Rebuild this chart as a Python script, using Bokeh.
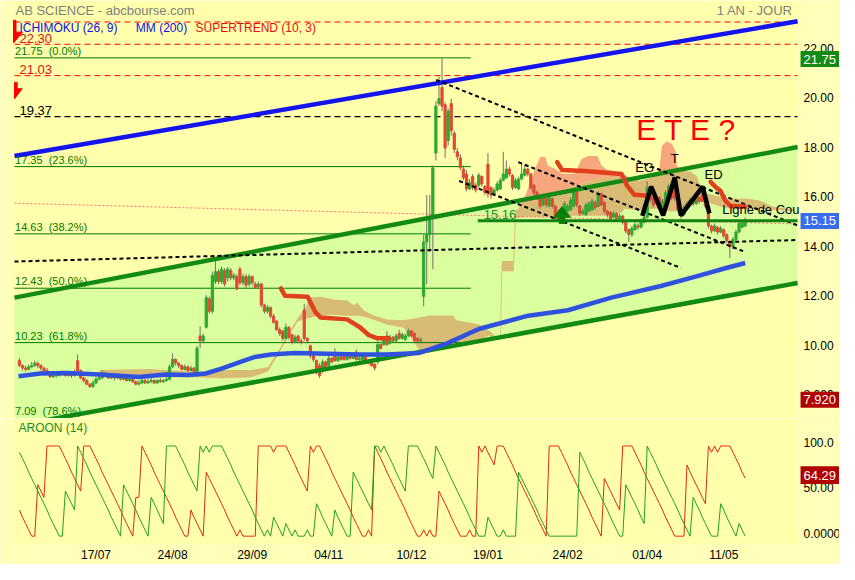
from bokeh.plotting import figure
from bokeh.layouts import column
from bokeh.models import Range1d, FixedTicker
from bokeh.core.properties import value
from bokeh.embed import file_html
from bokeh.resources import INLINE

FONT = "Liberation Sans"
BG = "#FFFFAC"
SIDE_BG = "#FFFFBA"

# ---------------- data ----------------
date_ticks = [25, 50, 76, 101, 128, 153, 179, 205, 230]
date_labels = ["17/07", "24/08", "29/09", "04/11", "10/12", "19/01", "24/02", "01/04", "11/05"]
price_ticks = [8, 10, 12, 14, 16, 18, 20, 22]
price_tick_labels = ["8.000", "10.00", "12.00", "14.00", "16.00", "18.00", "20.00", "22.00"]
aroon_ticks = [0, 50, 100]
aroon_tick_labels = ["0.0000", "50.00", "100.0"]

opens = [9.50, 9.30, 9.20, 9.15, 9.25, 9.30, 9.40, 9.30, 9.20, 9.10,
         9.00, 8.85, 8.95, 8.90, 8.95, 9.00, 8.90, 8.95, 8.90, 9.50,
         9.10, 8.80, 8.70, 8.55, 8.45, 8.60, 8.75, 8.80, 9.00, 8.90,
         8.80, 8.90, 8.80, 8.85, 8.75, 8.85, 8.70, 8.75, 8.65, 8.55,
         8.60, 8.70, 8.60, 8.65, 8.70, 8.60, 8.70, 8.65, 8.70, 8.75,
         9.25, 9.55, 9.40, 9.30, 9.15, 9.25, 9.10, 9.20, 9.00, 10.50,
         10.30, 10.85, 12.00, 11.50, 12.70, 13.10, 12.70, 13.15, 12.85, 13.15,
         12.85, 12.90, 13.20, 12.65, 12.90, 12.60, 12.90, 12.60, 12.50, 12.60,
         11.75, 11.50, 11.65, 11.30, 11.10, 10.75, 10.70, 10.40, 10.85, 10.55,
         10.25, 10.50, 10.30, 11.55, 10.40, 10.10, 9.70, 9.50, 9.30, 9.10,
         9.45, 9.30, 9.60, 9.70, 9.50, 9.65, 9.75, 9.55, 9.70, 9.60,
         9.85, 9.55, 9.55, 9.70, 9.50, 9.40, 9.35, 9.45, 10.15, 10.15,
         10.50, 10.20, 10.45, 10.30, 10.60, 10.40, 10.35, 10.50, 10.70, 10.60,
         10.40, 10.30, 12.10, 14.30, 14.60, 15.40, 17.90, 19.90, 20.55, 19.85,
         18.40, 19.90, 18.70, 17.95, 17.70, 17.25, 17.05, 16.45, 16.95, 16.60,
         16.60, 16.95, 16.55, 17.45, 16.50, 16.25, 16.40, 16.45, 16.80, 16.90,
         17.25, 17.00, 16.50, 16.45, 16.85, 17.00, 17.25, 17.05, 16.60, 16.30,
         16.15, 15.80, 16.10, 15.75, 16.05, 15.75, 15.30, 15.50, 15.40, 15.55,
         15.60, 15.75, 16.30, 15.75, 15.45, 15.40, 15.55, 15.60, 15.90, 15.75,
         16.25, 15.90, 15.55, 15.50, 15.30, 15.45, 15.25, 15.35, 15.10, 14.80,
         14.60, 14.80, 14.95, 14.90, 15.10, 15.30, 16.40, 16.10, 15.85, 16.10,
         15.75, 15.90, 16.30, 16.50, 16.90, 16.00, 15.60, 15.40, 15.65, 15.85,
         16.00, 15.85, 16.10, 16.30, 16.00, 15.75, 14.95, 14.75, 14.90, 14.70,
         14.80, 14.60, 14.30, 14.10, 14.40, 14.70, 14.90, 14.95]
closes = [9.30, 9.20, 9.15, 9.25, 9.30, 9.40, 9.30, 9.20, 9.10, 9.00,
          8.85, 8.95, 8.90, 8.95, 9.00, 8.90, 8.95, 8.90, 9.05, 9.10,
          8.80, 8.70, 8.55, 8.45, 8.60, 8.75, 8.80, 9.00, 8.90, 8.80,
          8.90, 8.80, 8.85, 8.75, 8.85, 8.70, 8.75, 8.65, 8.55, 8.60,
          8.70, 8.60, 8.65, 8.70, 8.60, 8.70, 8.65, 8.70, 8.75, 9.25,
          9.55, 9.40, 9.30, 9.15, 9.25, 9.10, 9.20, 9.05, 10.00, 10.30,
          10.50, 12.05, 11.50, 12.95, 13.10, 12.70, 13.20, 12.60, 13.20, 12.85,
          12.95, 12.40, 12.65, 12.90, 12.55, 12.90, 12.65, 12.45, 12.60, 11.75,
          11.50, 11.65, 11.30, 11.05, 10.75, 10.60, 10.40, 10.85, 10.45, 10.25,
          10.45, 10.30, 10.25, 10.40, 10.30, 9.70, 9.55, 9.10, 8.90, 9.45,
          9.20, 9.60, 9.45, 9.50, 9.65, 9.55, 9.55, 9.70, 9.60, 9.70,
          9.55, 9.60, 9.70, 9.50, 9.40, 9.30, 9.20, 10.15, 10.00, 10.40,
          10.15, 10.45, 10.30, 10.50, 10.40, 10.55, 10.50, 10.70, 10.50, 10.30,
          10.30, 10.35, 14.30, 14.60, 15.20, 17.30, 19.80, 20.10, 19.80, 18.10,
          19.60, 18.80, 18.05, 17.75, 17.30, 16.90, 16.45, 16.70, 16.50, 16.40,
          17.00, 16.65, 16.30, 16.25, 16.20, 16.40, 16.65, 16.80, 17.05, 17.25,
          17.05, 16.50, 16.80, 16.85, 17.05, 17.25, 17.05, 16.50, 16.30, 16.10,
          15.75, 16.05, 15.80, 16.10, 15.75, 15.25, 15.50, 15.30, 15.85, 15.75,
          16.00, 16.35, 15.80, 15.45, 15.55, 15.80, 15.85, 15.95, 15.70, 16.25,
          15.80, 15.55, 15.40, 15.25, 15.45, 15.25, 15.35, 15.10, 14.75, 14.60,
          14.85, 15.00, 14.90, 15.15, 15.30, 16.50, 16.00, 15.80, 16.10, 15.75,
          15.95, 16.30, 16.55, 16.10, 16.05, 15.60, 15.35, 15.70, 15.85, 16.00,
          15.85, 16.15, 15.95, 15.95, 15.75, 14.95, 14.75, 14.95, 14.70, 14.85,
          14.55, 14.35, 14.10, 14.40, 14.70, 15.05, 15.10, 15.15]
highs = [9.60, 9.35, 9.30, 9.35, 9.45, 9.50, 9.45, 9.35, 9.25, 9.20,
         9.05, 9.05, 9.00, 9.05, 9.10, 9.05, 9.00, 9.00, 9.15, 9.75,
         9.15, 8.85, 8.75, 8.60, 8.70, 8.85, 8.90, 9.10, 9.05, 8.95,
         9.00, 8.95, 8.95, 8.90, 8.95, 8.90, 8.85, 8.80, 8.70, 8.70,
         8.80, 8.75, 8.75, 8.80, 8.75, 8.75, 8.80, 8.75, 8.85, 9.35,
         9.80, 9.60, 9.45, 9.35, 9.35, 9.30, 9.30, 9.25, 10.10, 10.90,
         10.60, 12.15, 12.10, 13.10, 13.60, 13.20, 13.30, 13.25, 13.30, 13.25,
         13.05, 13.00, 13.30, 13.00, 13.00, 13.00, 12.95, 12.70, 12.70, 12.65,
         11.80, 11.75, 11.70, 11.40, 11.15, 10.85, 10.75, 11.00, 10.90, 10.60,
         10.55, 10.55, 10.40, 11.80, 10.45, 10.15, 9.75, 9.55, 9.40, 9.55,
         9.50, 9.70, 9.65, 10.00, 9.75, 9.70, 9.85, 9.80, 9.75, 9.80,
         9.95, 9.70, 9.80, 9.75, 9.55, 9.45, 9.40, 10.30, 10.20, 10.50,
         10.70, 10.55, 10.50, 10.60, 10.75, 10.65, 10.60, 10.80, 10.75, 10.65,
         10.45, 10.45, 14.60, 16.20, 16.20, 17.40, 20.00, 21.00, 21.75, 19.95,
         19.70, 20.10, 18.80, 18.10, 17.85, 17.40, 17.20, 16.85, 17.05, 16.70,
         17.10, 17.00, 16.60, 17.90, 16.55, 16.50, 16.75, 16.90, 17.95, 17.60,
         17.35, 17.05, 16.90, 16.95, 17.50, 17.40, 17.30, 17.10, 16.65, 16.40,
         16.20, 16.15, 16.15, 16.20, 16.10, 15.80, 15.60, 15.55, 15.95, 15.85,
         16.10, 16.50, 16.35, 15.80, 15.65, 15.90, 15.95, 16.05, 16.00, 16.35,
         16.30, 15.95, 15.60, 15.55, 15.55, 15.50, 15.45, 15.40, 15.15, 14.85,
         14.95, 15.10, 15.05, 15.25, 15.40, 16.75, 16.45, 16.15, 16.20, 16.15,
         16.05, 16.40, 16.65, 16.55, 17.00, 16.05, 15.65, 15.80, 15.95, 16.10,
         16.05, 16.25, 16.15, 16.40, 16.05, 15.80, 15.00, 15.05, 14.95, 14.95,
         14.85, 14.65, 14.35, 14.50, 14.80, 15.15, 15.20, 15.30]
lows = [9.25, 9.10, 9.05, 9.10, 9.20, 9.25, 9.20, 9.10, 9.00, 8.95,
        8.80, 8.80, 8.80, 8.85, 8.90, 8.85, 8.85, 8.80, 8.85, 9.00,
        8.75, 8.60, 8.50, 8.40, 8.40, 8.55, 8.70, 8.75, 8.85, 8.75,
        8.75, 8.70, 8.75, 8.70, 8.70, 8.65, 8.65, 8.60, 8.50, 8.50,
        8.55, 8.55, 8.55, 8.60, 8.55, 8.55, 8.60, 8.60, 8.65, 8.70,
        9.20, 9.30, 9.20, 9.10, 9.10, 9.05, 9.05, 8.95, 8.85, 10.00,
        10.20, 10.80, 11.40, 11.40, 12.60, 12.60, 12.60, 12.50, 12.70, 12.75,
        12.75, 12.35, 12.55, 12.55, 12.45, 12.50, 12.55, 12.40, 12.40, 11.65,
        11.40, 11.40, 11.20, 11.00, 10.70, 10.50, 10.30, 10.35, 10.35, 10.15,
        10.20, 10.20, 10.15, 10.30, 10.20, 9.60, 9.45, 8.95, 8.80, 9.00,
        9.10, 9.25, 9.40, 9.45, 9.45, 9.50, 9.50, 9.50, 9.55, 9.55,
        9.50, 9.50, 9.50, 9.45, 9.35, 9.25, 9.10, 9.35, 9.95, 10.10,
        10.10, 10.15, 10.25, 10.25, 10.35, 10.35, 10.30, 10.45, 10.45, 10.20,
        10.25, 10.25, 11.70, 12.60, 13.90, 13.20, 17.60, 19.80, 19.60, 17.70,
        18.20, 18.60, 17.90, 17.60, 17.20, 16.80, 16.35, 16.40, 16.40, 16.30,
        16.50, 16.55, 16.20, 16.10, 16.05, 16.15, 16.35, 16.40, 16.75, 16.85,
        16.95, 16.40, 16.45, 16.40, 16.80, 16.95, 16.95, 16.40, 16.20, 16.00,
        15.65, 15.75, 15.70, 15.70, 15.65, 15.15, 15.20, 15.20, 15.35, 15.50,
        15.55, 15.70, 15.70, 15.35, 15.40, 15.35, 15.50, 15.55, 15.60, 15.70,
        15.75, 15.45, 15.30, 15.15, 15.25, 15.15, 15.20, 15.00, 14.65, 14.30,
        14.50, 14.75, 14.80, 14.85, 15.05, 15.25, 15.90, 15.70, 15.80, 15.65,
        15.70, 15.85, 16.25, 16.00, 15.95, 15.50, 15.25, 15.35, 15.60, 15.80,
        15.75, 15.80, 15.85, 15.90, 15.65, 14.85, 14.65, 14.70, 14.60, 14.65,
        14.45, 14.25, 13.65, 14.00, 14.35, 14.65, 14.85, 14.90]

aroon_down = [29, 21, 14, 7, 0, 0, 57, 50, 43, 100,
              100, 100, 100, 100, 93, 86, 79, 71, 64, 57,
              50, 100, 100, 100, 93, 86, 79, 71, 64, 57,
              50, 43, 36, 29, 21, 14, 7, 0, 43, 43,
              100, 93, 86, 79, 71, 64, 57, 50, 43, 36,
              29, 21, 14, 7, 0, 0, 29, 21, 14, 7,
              0, 71, 64, 57, 50, 43, 36, 29, 21, 14,
              7, 0, 7, 0, 0, 0, 0, 0, 100, 100,
              100, 100, 100, 93, 100, 100, 100, 100, 93, 86,
              79, 71, 64, 57, 50, 100, 93, 100, 100, 93,
              86, 79, 71, 64, 57, 50, 43, 36, 29, 21,
              14, 7, 0, 0, 7, 0, 100, 93, 86, 79,
              71, 64, 57, 50, 43, 36, 29, 21, 14, 7,
              0, 0, 7, 0, 7, 0, 0, 50, 43, 36,
              29, 21, 14, 7, 0, 0, 0, 7, 0, 0,
              100, 93, 100, 93, 86, 79, 100, 100, 100, 93,
              86, 79, 71, 64, 57, 50, 43, 36, 29, 21,
              14, 7, 0, 100, 100, 100, 100, 93, 86, 79,
              71, 64, 57, 50, 43, 36, 29, 21, 14, 7,
              0, 64, 57, 50, 43, 36, 29, 100, 100, 100,
              100, 93, 86, 79, 71, 64, 57, 50, 43, 36,
              29, 21, 14, 7, 0, 0, 0, 0, 79, 71,
              64, 57, 50, 43, 36, 100, 93, 100, 93, 100,
              100, 100, 100, 93, 86, 79, 71, 64.29]
aroon_up = [93, 86, 79, 71, 64, 57, 50, 43, 36, 29,
            21, 14, 7, 0, 0, 50, 43, 36, 29, 100,
            93, 86, 79, 71, 64, 57, 50, 43, 36, 29,
            21, 14, 7, 0, 57, 50, 43, 36, 29, 21,
            14, 7, 0, 43, 36, 29, 21, 14, 100, 100,
            100, 100, 93, 86, 79, 71, 64, 57, 50, 100,
            93, 100, 93, 100, 100, 100, 100, 93, 86, 79,
            71, 64, 57, 50, 43, 36, 29, 21, 14, 7,
            0, 7, 0, 21, 14, 7, 0, 14, 7, 0,
            7, 0, 0, 0, 7, 0, 0, 36, 29, 21,
            14, 7, 0, 29, 21, 14, 7, 0, 0, 71,
            64, 57, 50, 43, 36, 29, 100, 100, 93, 100,
            93, 86, 79, 71, 64, 57, 50, 100, 100, 100,
            100, 93, 86, 79, 71, 64, 100, 93, 86, 79,
            71, 64, 57, 50, 43, 36, 29, 21, 14, 7,
            0, 0, 0, 21, 14, 7, 0, 0, 7, 0,
            0, 0, 0, 71, 64, 57, 50, 43, 36, 29,
            21, 14, 7, 0, 0, 0, 0, 0, 0, 0,
            0, 0, 0, 93, 86, 79, 71, 64, 57, 50,
            43, 36, 29, 21, 14, 7, 0, 0, 57, 50,
            43, 36, 29, 21, 14, 100, 93, 86, 79, 71,
            64, 57, 50, 43, 36, 29, 21, 14, 7, 0,
            43, 36, 29, 21, 14, 7, 0, 0, 0, 36,
            29, 21, 14, 7, 0, 14, 7, 0]

mm200_x = [-0.3, 6.8, 15.5, 26.2, 39.1, 47.8, 55.3, 60.8, 66.0, 71.5, 76.9, 82.1, 89.9,
           100.5, 111.2, 119.9, 130.6, 136.1, 139.3, 150.0, 166.2, 179.1, 193.3, 209.5,
           220.2, 230.8, 237.0]
mm200_y = [8.87, 8.98, 9.00, 8.94, 8.84, 8.94, 8.92, 8.98, 9.18, 9.42, 9.65, 9.75, 9.81,
           9.78, 9.75, 9.75, 9.81, 10.05, 10.18, 10.78, 11.32, 11.54, 12.05, 12.52,
           12.88, 13.25, 13.45]

cloud_x = [26.2, 42.4, 58.5, 66.0, 75.7, 81.2, 85.4, 88.6, 90.8, 93.4, 95.0, 98.3, 102.8,
           107.0, 109.3, 110.2, 112.5, 115.7, 120.0, 125.4, 128.7, 130.6, 133.9, 141.6,
           142.6, 150.0, 153.2, 155.5, 157.1, 157.5, 161.3, 162.0, 162.9, 165.2, 168.4,
           170.1, 171.7, 172.6, 174.9, 177.2, 181.4, 183.6, 185.6, 188.8, 190.1, 192.0,
           196.6, 197.6, 200.8, 203.0, 207.2, 208.9, 209.8, 211.4, 213.1, 214.4, 214.7,
           216.9, 219.2, 221.1, 222.8, 224.4, 228.9, 232.1, 237.3, 241.8, 246.0, 250.2,
           253.2]
cloud_lo = [8.84, 8.84, 8.84, 8.80, 8.84, 9.08, 9.97, 10.65, 11.09, 11.21, 11.25, 11.37,
            11.37, 11.33, 11.33, 11.33, 11.29, 11.17, 10.97, 10.85, 10.33, 9.92, 10.04,
            10.12, 10.17, 10.33, 10.53, 10.41, 10.41, 13.13, 13.13, 15.25, 15.29, 15.33,
            15.33, 15.33, 15.33, 15.33, 15.33, 15.33, 15.37, 15.37, 15.37, 15.37, 15.37,
            15.37, 15.50, 15.66, 15.62, 15.58, 15.66, 15.66, 15.62, 15.58, 15.54, 15.58,
            15.58, 15.66, 15.86, 15.90, 15.94, 15.94, 15.74, 15.66, 15.66, 15.66, 15.62,
            15.58, 15.58]
cloud_mid = [9.12, 9.16, 9.04, 9.12, 9.12, 9.24, 10.08, 10.77, 11.21, 11.65, 12.05, 12.09,
             11.97, 11.93, 11.73, 11.85, 11.53, 11.33, 11.17, 11.13, 11.21, 11.25, 11.33,
             11.33, 11.13, 10.97, 10.73, 10.49, 10.49, 13.53, 13.53, 15.57, 15.65, 15.86,
             15.98, 16.06, 16.14, 16.18, 16.26, 16.34, 16.58, 16.66, 16.74, 16.86, 16.90,
             16.94, 16.90, 16.86, 16.82, 16.78, 16.94, 16.98, 17.02, 17.06, 17.10, 17.14,
             17.14, 17.18, 17.14, 16.98, 16.46, 16.26, 16.13, 16.06, 16.06, 15.98, 15.74,
             15.66, 15.62]
cloud_hi = [9.12, 9.16, 9.04, 9.12, 9.12, 9.24, 10.08, 10.77, 11.21, 11.65, 12.05, 12.09,
            11.97, 11.93, 11.73, 11.85, 11.53, 11.33, 11.17, 11.13, 11.21, 11.25, 11.33,
            11.33, 11.13, 10.97, 10.73, 10.49, 10.49, 13.53, 13.53, 15.57, 15.65, 16.18,
            17.26, 17.74, 17.74, 17.38, 17.26, 17.06, 17.06, 17.66, 17.78, 17.78, 17.38,
            17.22, 17.10, 17.02, 16.82, 16.78, 16.94, 17.18, 18.18, 18.38, 18.26, 17.94,
            17.38, 17.18, 17.14, 16.98, 16.46, 16.26, 16.13, 16.06, 16.06, 15.98, 15.74,
            15.66, 15.62]

st1_x = [85.4, 86.7, 94.1, 96.7, 98.3, 107.0, 111.2, 114.1, 116.7, 120.6]
st1_y = [12.42, 12.13, 12.09, 11.45, 11.25, 11.17, 10.85, 10.53, 10.41, 10.41]
st2_x = [175.6, 177.2, 184.6, 196.6, 198.5, 200.8, 205.6]
st2_y = [17.53, 17.21, 17.17, 17.05, 16.57, 16.21, 16.17]
st3_x = [225.7, 227.3, 228.9, 230.5, 232.1, 237.0]
st3_y = [16.73, 16.53, 16.37, 15.97, 15.77, 15.73]

fib_levels = [21.75, 17.35, 14.63, 12.43, 10.23, 7.09]
fib_labels = ["21.75\u00a0 (0.0%)", "17.35\u00a0 (23.6%)", "14.63\u00a0 (38.2%)",
              "12.43\u00a0 (50.0%)", "10.23\u00a0 (61.8%)", "7.09\u00a0 (78.6%)"]
red_levels = [23.20, 22.30, 21.03]
red_labels = ["", "22.30", "21.03"]
black_level = 19.37
neckline = 15.16
box_price = 7.92

# trend lines (x0, y0, x1, y1)
blue_top = (-1.62, 17.78, 254.1, 23.23)
green_up = (-1.62, 12.05, 254.1, 18.14)
green_lo = (-1.62, 6.86, 254.1, 12.64)
dash_x0 = [-1.62, 136.1, 143.6, 162.9]
dash_y0 = [13.51, 20.86, 16.77, 17.53]
dash_x1 = [254.1, 254.1, 216.0, 236.3]
dash_y1 = [14.38, 14.97, 13.25, 13.93]
pink_line = (-1.62, 15.87, 254.1, 15.03)

zigzag_x = [203.4, 206.3, 210.2, 214.0, 216.0, 223.1, 225.3]
zigzag_y = [15.36, 16.54, 15.38, 16.90, 15.38, 16.54, 15.46]

XL, XMIN, XMAX, XEND = -6.19, -1.62, 254.1, 267.8
LABEL_X = 256.05          # left edge of the right-hand scale labels
BOX_X, BOX_W = 261.45, 12.74
n = len(closes)
xs = list(range(n))

# ---------------- main price panel ----------------
x_range = Range1d(XL, XEND)
YMIN, YMAX = 7.16, 24.07
p = figure(width=839, height=418, x_range=x_range, y_range=Range1d(YMIN, YMAX),
           output_backend="svg", toolbar_location=None, x_axis_location=None,
           y_axis_location=None, min_border_left=0, min_border_right=0,
           min_border_top=0, min_border_bottom=0, background_fill_color=BG,
           border_fill_color=BG, outline_line_color=None)
p.grid.visible = False

# side strips (outside the drawing area)
p.quad(left=[XL, XMAX], right=[XMIN, XEND], bottom=[YMIN] * 2, top=[YMAX] * 2,
       fill_color=SIDE_BG, line_color=None)

# channel fill
p.varea(x=[green_lo[0], green_lo[2]], y1=[green_lo[1], green_lo[3]],
        y2=[green_up[1], green_up[3]], fill_color="#DBFF9E")

# ichimoku cloud
p.varea(x=cloud_x, y1=cloud_lo, y2=cloud_mid, fill_color="#D8B772", fill_alpha=0.95)
p.varea(x=cloud_x, y1=cloud_mid, y2=cloud_hi, fill_color="#F7A17B", fill_alpha=0.95)
p.line(cloud_x, cloud_lo, color="#E8B878", line_width=1, alpha=0.8)

# fibonacci lines
p.segment(x0=[XMIN] * len(fib_levels), x1=[147.4] * len(fib_levels), y0=fib_levels,
          y1=fib_levels, color="#007A00", line_width=1)
# level lines
p.segment(x0=[XMIN] * 3, x1=[XMAX] * 3, y0=red_levels, y1=red_levels, color="#FF0000",
          line_width=1, line_dash="6 4")
p.segment(x0=[XMIN], x1=[XMAX], y0=[black_level], y1=[black_level], color="#000000",
          line_width=1.3, line_dash="6 4")
p.segment(x0=[pink_line[0]], y0=[pink_line[1]], x1=[pink_line[2]], y1=[pink_line[3]],
          color="#FF7070", line_width=1, line_dash="2 2")

# candles
colors = ["#2EAA2E" if c >= o else "#E04A33" for o, c in zip(opens, closes)]
tops = [max(o, c) for o, c in zip(opens, closes)]
bots = [min(o, c) for o, c in zip(opens, closes)]
p.segment(x0=xs, x1=xs, y0=lows, y1=highs, color="#707070", line_width=1)
p.vbar(x=xs, width=0.72, top=tops, bottom=bots, fill_color=colors, line_color=colors)

# trend lines
p.line([blue_top[0], blue_top[2]], [blue_top[1], blue_top[3]], color="#1414F0", line_width=4.5)
p.line([green_up[0], green_up[2]], [green_up[1], green_up[3]], color="#138A13", line_width=4.5)
p.line([green_lo[0], green_lo[2]], [green_lo[1], green_lo[3]], color="#138A13", line_width=4.5)
p.segment(x0=dash_x0, y0=dash_y0, x1=dash_x1, y1=dash_y1, color="#000000", line_width=2,
          line_dash="4 3")

# MM200 and supertrend
p.line(mm200_x, mm200_y, color="#3050E0", line_width=4.5, line_join="round")
for sx, sy in ((st1_x, st1_y), (st2_x, st2_y), (st3_x, st3_y)):
    p.line(sx, sy, color="#E0401E", line_width=4.5, line_join="round", line_cap="round")

# neckline, zigzag, arrow
p.line([149.7, XMAX], [neckline, neckline], color="#128212", line_width=3)
p.line(zigzag_x, zigzag_y, color="#000000", line_width=4.5)
p.patch([177.2, 179.95, 178.15, 178.15, 176.25, 176.25, 174.45],
        [15.74, 15.30, 15.30, 15.05, 15.05, 15.30, 15.30], fill_color="#0A800A",
        line_color="#0A800A")
# supertrend sell flags
p.patches([[-1.94, -1.13, -1.13, 0.97, -1.94], [-1.62, -0.74, -0.74, 0.87, -1.62]],
          [[23.27, 23.27, 22.79, 22.79, 22.35], [20.76, 20.76, 20.50, 20.50, 20.09]],
          fill_color="#FF0000", line_color="#FF0000")

# texts
def txt(fig, x, y, t, color, size, align="left", baseline="bottom"):
    fig.text(x=[x], y=[y], text=[t], text_color=color, text_font=value(FONT),
             text_font_size=size, text_align=align, text_baseline=baseline)

txt(p, -1.3, 23.95, "AB SCIENCE - abcbourse.com", "#808080", "13px", baseline="top")
txt(p, 252.5, 23.95, "1 AN - JOUR", "#808080", "13px", align="right", baseline="top")
txt(p, 0.0, 22.95, "ICHIMOKU (26, 9)", "#1010E0", "12px", baseline="middle")
txt(p, 38.0, 22.95, "MM (200)", "#1010E0", "12px", baseline="middle")
txt(p, 57.5, 22.95, "SUPERTREND (10, 3)", "#E01010", "12px", baseline="middle")
for lv, lb in zip(red_levels, red_labels):
    if lb:
        txt(p, 0.0, lv + 0.06, lb, "#E01010", "13px")
txt(p, 0.0, black_level + 0.06, "19.37", "#000000", "13px")
for lv, lb in zip(fib_levels, fib_labels):
    txt(p, -1.45, max(lv, 7.2) + 0.04, lb, "#007A00", "11px")
txt(p, 151.6, 15.25, "15.16", "#1E8C1E", "13px")
txt(p, 201.4, 18.18, "E T E ?", "#FF0000", "30px")
txt(p, 201.1, 17.01, "EG", "#000000", "13px")
txt(p, 212.7, 17.38, "T", "#000000", "13px")
txt(p, 223.7, 16.74, "ED", "#000000", "13px")
txt(p, 229.5, 15.33, "Ligne de Cou", "#000000", "13px")

# right price scale (labels sit ~3px above their level, like the original)
P_OFF = 0.131
p.text(x=[LABEL_X] * len(price_ticks), y=[t + P_OFF for t in price_ticks],
       text=price_tick_labels, text_color="#000000", text_font=value(FONT),
       text_font_size="12px", text_align="left", text_baseline="middle")

def box(fig, y, t, bg, h):
    fig.rect(x=[BOX_X], y=[y], width=BOX_W, height=h, fill_color=bg, line_color=None)
    fig.text(x=[LABEL_X], y=[y], text=[t], text_color="#FFFFFF", text_font=value(FONT),
             text_font_size="13px", text_align="left", text_baseline="middle")

box(p, fib_levels[0] - 0.05, "%.2f" % fib_levels[0], "#168A16", 0.647)
box(p, closes[-1], "%.2f" % closes[-1], "#3A6CF0", 0.647)
box(p, box_price, "%.3f" % box_price, "#B00000", 0.647)

# ---------------- aroon panel ----------------
AMIN, AMAX = -9.25, 130.5
p2 = figure(width=839, height=146, x_range=x_range, y_range=Range1d(AMIN, AMAX),
            output_backend="svg", toolbar_location=None, y_axis_location=None,
            min_border_left=0, min_border_right=0, min_border_top=0, min_border_bottom=18,
            background_fill_color=BG, border_fill_color=BG, outline_line_color=None)
p2.grid.visible = False
p2.quad(left=[XL, XMAX], right=[XMIN, XEND], bottom=[AMIN] * 2, top=[AMAX] * 2,
        fill_color=SIDE_BG, line_color=None)
p2.line(xs, aroon_down, color="#E02A1A", line_width=1)
p2.line(xs, aroon_up, color="#22A022", line_width=1)
txt(p2, -0.3, 120.2, "AROON (14)", "#1E8C1E", "12px", baseline="middle")
A_OFF = 3.5
p2.text(x=[LABEL_X] * len(aroon_ticks), y=[t + A_OFF for t in aroon_ticks],
        text=aroon_tick_labels, text_color="#000000", text_font=value(FONT),
        text_font_size="12px", text_align="left", text_baseline="middle")
box(p2, aroon_down[-1] + A_OFF, "%.2f" % aroon_down[-1], "#B00000", 19.6)

p2.xaxis.ticker = FixedTicker(ticks=date_ticks)
p2.xaxis.major_label_overrides = dict(zip(date_ticks, date_labels))
p2.xaxis.axis_line_color = None
p2.xaxis.major_tick_line_color = None
p2.xaxis.minor_tick_line_color = None
p2.xaxis.major_tick_out = 0
p2.xaxis.minor_tick_out = 0
p2.xaxis.major_label_standoff = 3
p2.xaxis.major_label_text_font = FONT
p2.xaxis.major_label_text_font_size = "12px"
p2.xaxis.major_label_text_color = "#000000"
p2.xaxis.background_fill_color = SIDE_BG

layout = column(p, p2)
open("out.html", "w").write(file_html(layout, INLINE))
